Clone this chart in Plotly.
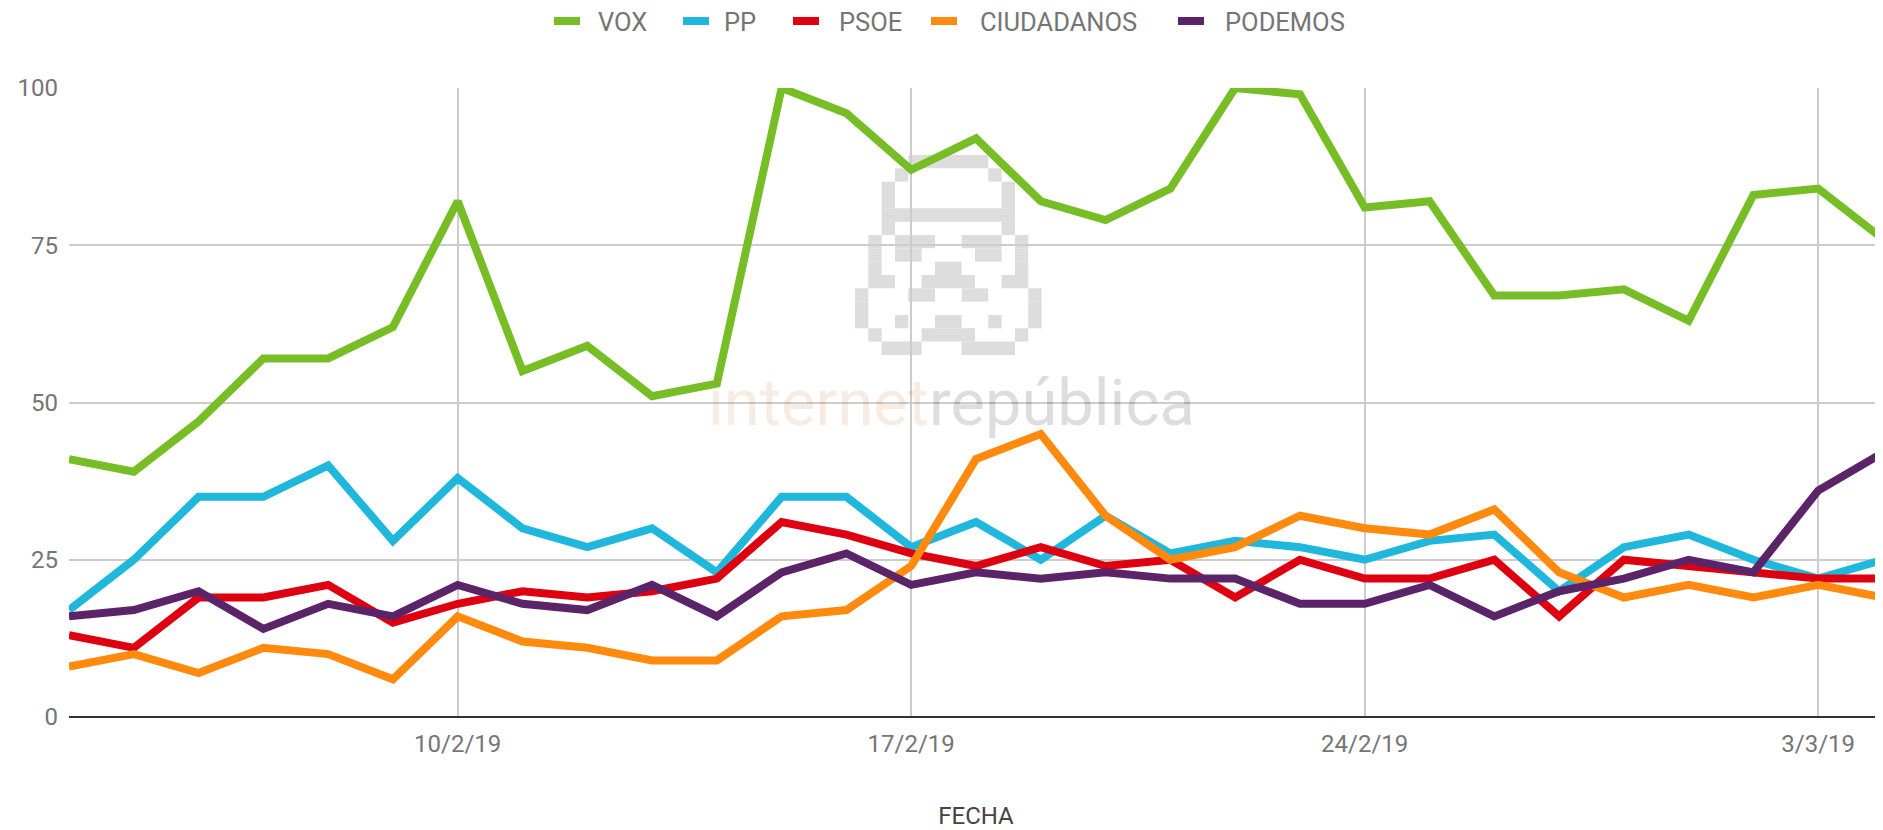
import plotly.graph_objects as go
import pandas as pd

dates = pd.date_range("2019-02-04", "2019-03-04", freq="D")

vox = [41, 39, 47, 57, 57, 62, 82, 55, 59, 51, 53, 100, 96, 87, 92, 82, 79, 84,
       100, 99, 81, 82, 67, 67, 68, 63, 83, 84, 76]
pp = [17, 25, 35, 35, 40, 28, 38, 30, 27, 30, 23, 35, 35, 27, 31, 25, 32, 26,
      28, 27, 25, 28, 29, 20, 27, 29, 25, 22, 25]
psoe = [13, 11, 19, 19, 21, 15, 18, 20, 19, 20, 22, 31, 29, 26, 24, 27, 24, 25,
        19, 25, 22, 22, 25, 16, 25, 24, 23, 22, 22]
ciudadanos = [8, 10, 7, 11, 10, 6, 16, 12, 11, 9, 9, 16, 17, 24, 41, 45, 32, 25,
              27, 32, 30, 29, 33, 23, 19, 21, 19, 21, 19]
podemos = [16, 17, 20, 14, 18, 16, 21, 18, 17, 21, 16, 23, 26, 21, 23, 22, 23, 22,
           22, 18, 18, 21, 16, 20, 22, 25, 23, 36, 42]

series_names = ["VOX", "PP", "PSOE", "CIUDADANOS", "PODEMOS"]
series_values = [vox, pp, psoe, ciudadanos, podemos]
colors = ["#77BE26", "#1FB7DB", "#DE0010", "#FF8A0D", "#5B2468"]

x_tick_vals = ["2019-02-10", "2019-02-17", "2019-02-24", "2019-03-03"]
x_tick_text = ["10/2/19", "17/2/19", "24/2/19", "3/3/19"]
y_tick_vals = [0, 25, 50, 75, 100]

# watermark pixel-art logo (row -> list of (start_col, end_col) runs)
logo_rows = [
    [(4, 9)],
    [(3, 3), (10, 10)],
    [(2, 2), (11, 11)],
    [(2, 2), (11, 11)],
    [(2, 11)],
    [(2, 2), (11, 11)],
    [(1, 1), (3, 5), (8, 10), (12, 12)],
    [(1, 1), (3, 4), (9, 10), (12, 12)],
    [(1, 1), (6, 7), (12, 12)],
    [(1, 2), (5, 8), (11, 12)],
    [(0, 0), (4, 5), (8, 9), (13, 13)],
    [(0, 0), (13, 13)],
    [(0, 0), (3, 3), (6, 7), (10, 10), (13, 13)],
    [(1, 1), (5, 8), (12, 12)],
    [(2, 4), (8, 11)],
]

# the page body has an 8px default margin; size the figure to fit the window
OFF = 8
W, H = 1883 - OFF, 830 - OFF
ML, MR, MT, MB = 61, 0, 80, 113
PW, PH = W - ML - MR, H - MT - MB


def px_x(sx):  # screen x -> paper x
    return (sx - OFF - ML) / PW


def px_y(sy):  # screen y -> paper y
    return (H - MB - (sy - OFF)) / PH


fig = go.Figure()
for name, vals, col in zip(series_names, series_values, colors):
    fig.add_trace(go.Scatter(
        x=dates, y=vals, name=name, mode="lines",
        line=dict(color=col, width=8), showlegend=False,
    ))

# logo shapes
cell = 13.33
lx0, ly0 = 855, 155
for r, runs in enumerate(logo_rows):
    for c0, c1 in runs:
        fig.add_shape(
            type="rect", xref="paper", yref="paper", layer="below",
            x0=px_x(lx0 + c0 * cell), x1=px_x(lx0 + (c1 + 1) * cell),
            y0=px_y(ly0 + (r + 1) * cell), y1=px_y(ly0 + r * cell),
            fillcolor="#DDDDDD", line=dict(width=0),
        )

# watermark text (translucent so the lines still show through)
fig.add_annotation(
    xref="paper", yref="paper", x=px_x(706), y=px_y(403),
    xanchor="left", yanchor="middle",
    text="<span style='color:rgba(200,120,60,0.15)'>internet</span>"
         "<span style='color:rgba(0,0,0,0.133)'>república</span>",
    showarrow=False, font=dict(family="Roboto, sans-serif", size=65, weight=400),
)

# legend (swatch + label per series)
legend_swatch_x = [554, 683, 793, 931, 1178]
legend_text_x = [597, 723, 838, 979, 1224]
for name, col, sx, tx in zip(series_names, colors, legend_swatch_x, legend_text_x):
    fig.add_shape(
        type="rect", xref="paper", yref="paper",
        x0=px_x(sx), x1=px_x(sx + 26), y0=px_y(25), y1=px_y(17),
        fillcolor=col, line=dict(width=0),
    )
    fig.add_annotation(
        xref="paper", yref="paper", x=px_x(tx - 1), y=px_y(22),
        xanchor="left", yanchor="middle", showarrow=False,
        text=name, font=dict(size=25.5, color="#757575"),
    )

fig.update_layout(
    width=W, height=H,
    margin=dict(l=ML, r=MR, t=MT, b=MB, autoexpand=False),
    paper_bgcolor="white", plot_bgcolor="rgba(0,0,0,0)",
    font=dict(family="Roboto, sans-serif", size=24, color="#757575"),
    showlegend=False,
    xaxis=dict(
        type="date", range=["2019-02-04", "2019-03-04"],
        tickvals=x_tick_vals, ticktext=x_tick_text,
        showgrid=True, gridcolor="#CCCCCC", gridwidth=2,
        zeroline=False, showline=False, ticks="", ticklabelstandoff=10,
        tickfont=dict(size=24, color="#757575"),
        title=dict(text="FECHA", font=dict(size=24, color="#444444"), standoff=51),
    ),
    yaxis=dict(
        range=[0, 100], tickvals=y_tick_vals,
        showgrid=True, gridcolor="#CCCCCC", gridwidth=2,
        zeroline=True, zerolinecolor="#333333", zerolinewidth=2,
        showline=False, ticks="", ticklabelstandoff=10,
        tickfont=dict(size=24, color="#757575"),
    ),
)

fig.write_html("out.html")
